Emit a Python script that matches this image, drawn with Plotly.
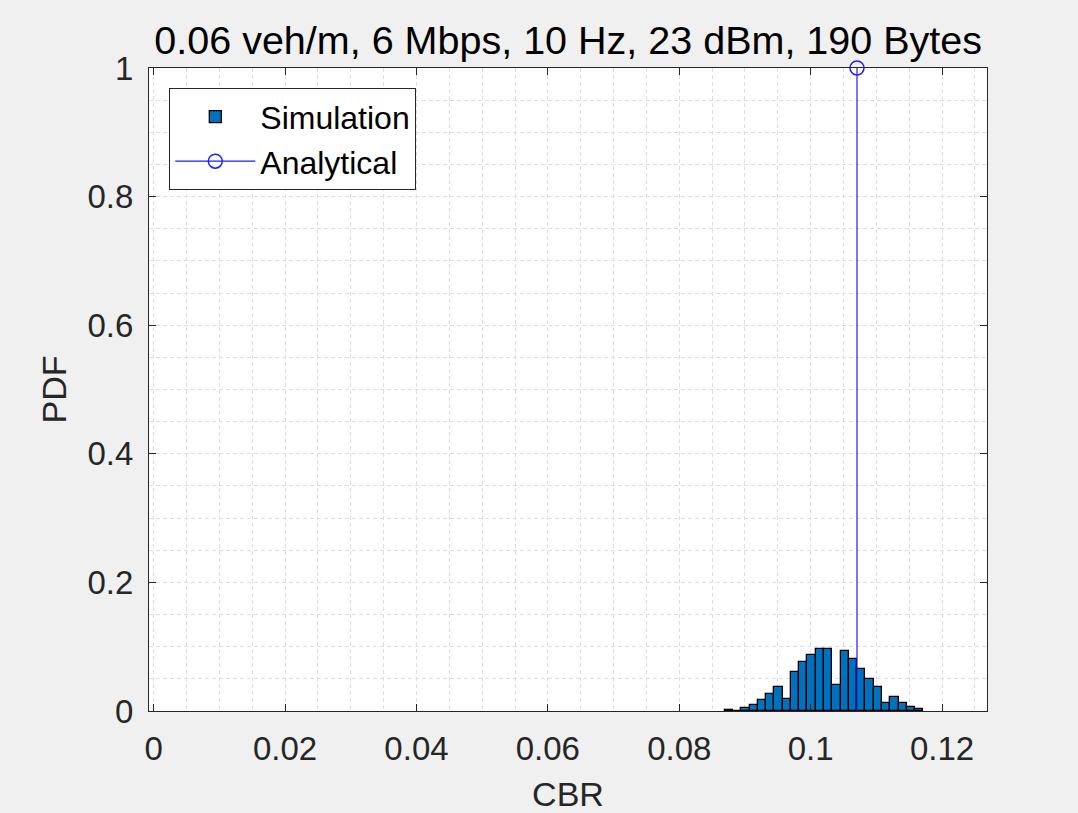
import plotly.graph_objects as go

# ---- data ----
cbr_bin_centers = [0.08755, 0.08881, 0.09007, 0.09133, 0.09259, 0.09385, 0.09511, 0.09637,
                   0.09763, 0.09889, 0.10015, 0.10141, 0.10267, 0.10393, 0.10519, 0.10645,
                   0.10771, 0.10897, 0.11023, 0.11149, 0.11275, 0.11401, 0.11527, 0.11653]
sim_pdf = [0.0022, 0.0, 0.0047, 0.0088, 0.0166, 0.0264, 0.0378, 0.0187,
           0.0600, 0.0760, 0.0865, 0.0958, 0.0958, 0.0404, 0.0932, 0.0813,
           0.0648, 0.0497, 0.0378, 0.0119, 0.0212, 0.0119, 0.0062, 0.0026]
bin_width = 0.00126
analytical_cbr = [0.10706]
analytical_pdf = [1.0]

x_ticks = [0, 0.02, 0.04, 0.06, 0.08, 0.1, 0.12]
y_ticks = [0, 0.2, 0.4, 0.6, 0.8, 1]
title_text = "0.06 veh/m, 6 Mbps, 10 Hz, 23 dBm, 190 Bytes"

TXT = "#262626"
FONT = "Liberation Sans, Arial, sans-serif"
GRID = "rgb(222,222,222)"
BLUE = "rgb(30,30,255)"

fig = go.Figure()
fig.add_trace(go.Bar(
    x=cbr_bin_centers, y=sim_pdf, width=bin_width, name="Simulation",
    marker=dict(color="#0072BD", line=dict(color="black", width=1.3)),
))
# stem lines
stem_x, stem_y = [], []
for xv, yv in zip(analytical_cbr, analytical_pdf):
    stem_x += [xv, xv, None]
    stem_y += [0, yv, None]
fig.add_trace(go.Scatter(x=stem_x, y=stem_y, mode="lines", showlegend=False,
                         line=dict(color=BLUE, width=1.2), hoverinfo="skip"))
fig.add_trace(go.Scatter(x=analytical_cbr, y=analytical_pdf, mode="lines+markers", name="Analytical",
                         line=dict(color=BLUE, width=1.2),
                         marker=dict(symbol="circle-open", size=14, color=BLUE,
                                     line=dict(width=1.5, color=BLUE)),
                         cliponaxis=False))

axis_common = dict(
    showline=True, linecolor=TXT, linewidth=1, mirror="allticks",
    ticks="inside", ticklen=7, tickcolor=TXT, tickwidth=1,
    showgrid=True, gridcolor=GRID, griddash="4px,3px", gridwidth=1,
    zeroline=False, tickfont=dict(size=33, color=TXT, family=FONT),
)

fig.update_layout(
    width=1078, height=813,
    paper_bgcolor="#f0f0f0", plot_bgcolor="white",
    margin=dict(l=149, r=91, t=68, b=101.5, autoexpand=False),
    font=dict(family=FONT, color=TXT),
    bargap=0,
    title=dict(text=title_text, x=(149 + 987.3) / 2 / 1078, xanchor="center",
               y=1 - 40 / 813, yanchor="middle",
               font=dict(size=39.5, color="black", family=FONT)),
    xaxis=dict(range=[-0.000716, 0.12685], tickvals=x_ticks,
               ticktext=[("%g" % v) for v in x_ticks],
               title=dict(text="CBR", font=dict(size=34, color=TXT, family=FONT), standoff=17),
               minor=dict(dtick=0.005, tick0=0, showgrid=True, gridcolor=GRID,
                          griddash="4px,3px", ticks=""),
               ticklabelstandoff=8,
               **axis_common),
    yaxis=dict(range=[0, 1], tickvals=y_ticks,
               ticktext=[("%g" % v) for v in y_ticks],
               title=dict(text="PDF", font=dict(size=34, color=TXT, family=FONT), standoff=10),
               minor=dict(dtick=0.05, tick0=0, showgrid=True, gridcolor=GRID,
                          griddash="4px,3px", ticks=""),
               ticklabelstandoff=8,
               **axis_common),
    legend=dict(x=(169.3 - 149) / 838, y=(711.5 - 88.3) / 643.5, xanchor="left", yanchor="top",
                bgcolor="white", bordercolor=TXT, borderwidth=1,
                font=dict(size=32, color="black", family=FONT),
                itemwidth=80, tracegroupgap=0),
    showlegend=True,
)

fig.write_html("out.html")
